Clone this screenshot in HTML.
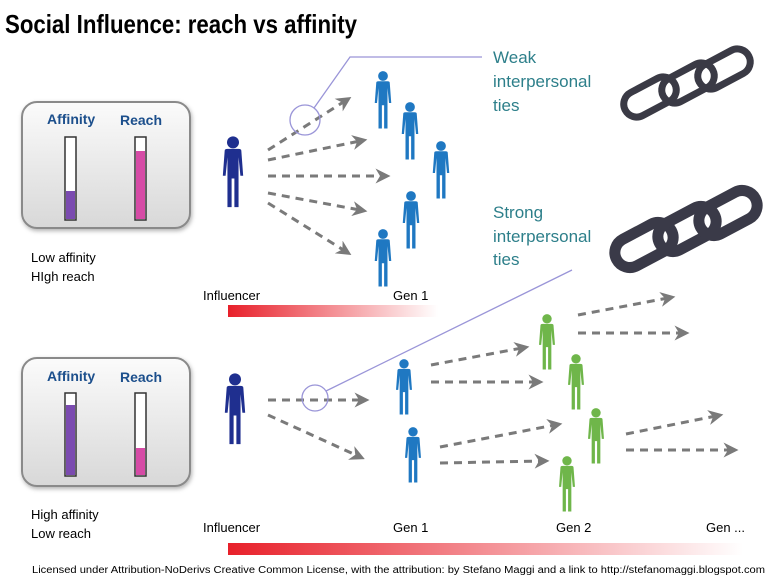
<!DOCTYPE html>
<html><head><meta charset="utf-8"><style>html,body{margin:0;padding:0;background:#fff}svg{display:block}</style></head><body>
<svg width="770" height="578" viewBox="0 0 770 578" xmlns="http://www.w3.org/2000/svg" font-family="Liberation Sans, sans-serif">
<defs>
<symbol id="p" viewBox="0 0 24 80" overflow="visible">
<circle cx="12" cy="8" r="6.5"/>
<path d="M3 17 Q3 15 6 15 L18 15 Q21 15 21 17 L23 44 L20 44 L18 24 L18 78 L13.5 78 L13.5 47 L10.5 47 L10.5 78 L6 78 L6 24 L4 44 L1 44 Z"/>
</symbol>
<marker id="ar" viewBox="0 0 10 10" refX="5" refY="5" markerWidth="5" markerHeight="5" orient="auto"><path d="M0 0 L10 5 L0 10 L3 5 Z" fill="#7a7a7a"/></marker>
<linearGradient id="rg" x1="0" x2="1"><stop offset="0" stop-color="#e8202a"/><stop offset="1" stop-color="#e8202a" stop-opacity="0"/></linearGradient>
<linearGradient id="pg" x1="0" y1="0" x2="0" y2="1"><stop offset="0" stop-color="#fbfbfb"/><stop offset="1" stop-color="#d8d8d8"/></linearGradient>
<filter id="sh"><feDropShadow dx="1" dy="2" stdDeviation="2" flood-opacity="0.3"/></filter>
</defs>
<text x="5" y="33" font-size="26" font-weight="bold" textLength="352" lengthAdjust="spacingAndGlyphs">Social Influence: reach vs affinity</text>

<g>
<rect x="22" y="102" width="168" height="126" rx="15" fill="url(#pg)" stroke="#8a8a8a" stroke-width="2" filter="url(#sh)"/>
<text x="47" y="124" font-size="14" font-weight="bold" fill="#1c4f8c">Affinity</text>
<text x="120" y="125" font-size="14" font-weight="bold" fill="#1c4f8c">Reach</text>
<rect x="65" y="137" width="11" height="83" fill="#fff" stroke="#333" stroke-width="1.5"/>
<rect x="66" y="191" width="9" height="28" fill="#7b4bb0"/>
<rect x="135" y="137" width="11" height="83" fill="#fff" stroke="#333" stroke-width="1.5"/>
<rect x="136" y="151" width="9" height="68" fill="#d64ba6"/>
<text x="31" y="262" font-size="13">Low affinity</text>
<text x="31" y="281" font-size="13">HIgh reach</text>

<rect x="22" y="358" width="168" height="128" rx="15" fill="url(#pg)" stroke="#8a8a8a" stroke-width="2" filter="url(#sh)"/>
<text x="47" y="381" font-size="14" font-weight="bold" fill="#1c4f8c">Affinity</text>
<text x="120" y="382" font-size="14" font-weight="bold" fill="#1c4f8c">Reach</text>
<rect x="65" y="393" width="11" height="83" fill="#fff" stroke="#333" stroke-width="1.5"/>
<rect x="66" y="405" width="9" height="70" fill="#7b4bb0"/>
<rect x="135" y="393" width="11" height="83" fill="#fff" stroke="#333" stroke-width="1.5"/>
<rect x="136" y="448" width="9" height="27" fill="#d64ba6"/>
<text x="31" y="519" font-size="13">High affinity</text>
<text x="31" y="538" font-size="13">Low reach</text>
</g>

<g stroke="#7a7a7a" stroke-width="3" stroke-dasharray="8 6" fill="none" marker-end="url(#ar)">
<line x1="268" y1="150" x2="345" y2="101"/>
<line x1="268" y1="160" x2="360" y2="141"/>
<line x1="268" y1="176" x2="383" y2="176"/>
<line x1="268" y1="193" x2="360" y2="210"/>
<line x1="268" y1="203" x2="345" y2="251"/>
<line x1="268" y1="400" x2="362" y2="400"/>
<line x1="268" y1="415" x2="358" y2="456"/>
<line x1="431" y1="365" x2="522" y2="348"/>
<line x1="431" y1="382" x2="536" y2="382"/>
<line x1="440" y1="447" x2="555" y2="425"/>
<line x1="440" y1="463" x2="542" y2="461"/>
<line x1="578" y1="315" x2="668" y2="298"/>
<line x1="578" y1="333" x2="682" y2="333"/>
<line x1="626" y1="434" x2="716" y2="416"/>
<line x1="626" y1="450" x2="731" y2="450"/>
</g>

<g fill="none" stroke="#9a95d8" stroke-width="1.3">
<circle cx="305" cy="120" r="15"/>
<polyline points="314,108 350,57 482,57"/>
<circle cx="315" cy="398" r="13"/>
<line x1="326" y1="391" x2="572" y2="270"/>
</g>

<g fill="#1f2f8f">
<use href="#p" x="221" y="135" width="24" height="74"/>
<use href="#p" x="223" y="372" width="24" height="74"/>
</g>
<g fill="#1f78c2">
<use href="#p" x="373" y="70" width="20" height="60"/>
<use href="#p" x="400" y="101" width="20" height="60"/>
<use href="#p" x="431" y="140" width="20" height="60"/>
<use href="#p" x="401" y="190" width="20" height="60"/>
<use href="#p" x="373" y="228" width="20" height="60"/>
<use href="#p" x="394" y="358" width="20" height="58"/>
<use href="#p" x="403" y="426" width="20" height="58"/>
</g>
<g fill="#6fb64a">
<use href="#p" x="537" y="313" width="20" height="58"/>
<use href="#p" x="566" y="353" width="20" height="58"/>
<use href="#p" x="586" y="407" width="20" height="58"/>
<use href="#p" x="557" y="455" width="20" height="58"/>
</g>

<g fill="none" stroke="#3a3a45" stroke-width="7" transform="translate(0 12)">
<rect x="622" y="72" width="56" height="26" rx="13" transform="rotate(-28 650 85)"/>
<rect x="660" y="58" width="56" height="26" rx="13" transform="rotate(-28 688 71)"/>
<rect x="696" y="44" width="56" height="26" rx="13" transform="rotate(-28 724 57)"/>
</g>
<g fill="none" stroke="#3a3a48" stroke-width="11">
<rect x="613" y="230" width="62" height="30" rx="15" transform="rotate(-28 644 245)"/>
<rect x="656" y="214" width="62" height="30" rx="15" transform="rotate(-28 687 229)"/>
<rect x="697" y="198" width="62" height="30" rx="15" transform="rotate(-28 728 213)"/>
</g>

<g fill="#2d7f8a" font-size="17">
<text x="493" y="63">Weak</text>
<text x="493" y="87">interpersonal</text>
<text x="493" y="111">ties</text>
<text x="493" y="218">Strong</text>
<text x="493" y="242">interpersonal</text>
<text x="493" y="265">ties</text>
</g>
<g font-size="13">
<text x="203" y="300">Influencer</text>
<text x="393" y="300">Gen 1</text>
<text x="203" y="532">Influencer</text>
<text x="393" y="532">Gen 1</text>
<text x="556" y="532">Gen 2</text>
<text x="706" y="532">Gen ...</text>
</g>
<rect x="228" y="305" width="210" height="12" fill="url(#rg)"/>
<rect x="228" y="543" width="515" height="12" fill="url(#rg)"/>
<text x="32" y="573" font-size="10" textLength="733" lengthAdjust="spacingAndGlyphs">Licensed under Attribution-NoDerivs Creative Common License, with the attribution: by Stefano Maggi and a link to http://stefanomaggi.blogspot.com</text>
</svg>
</body></html>
